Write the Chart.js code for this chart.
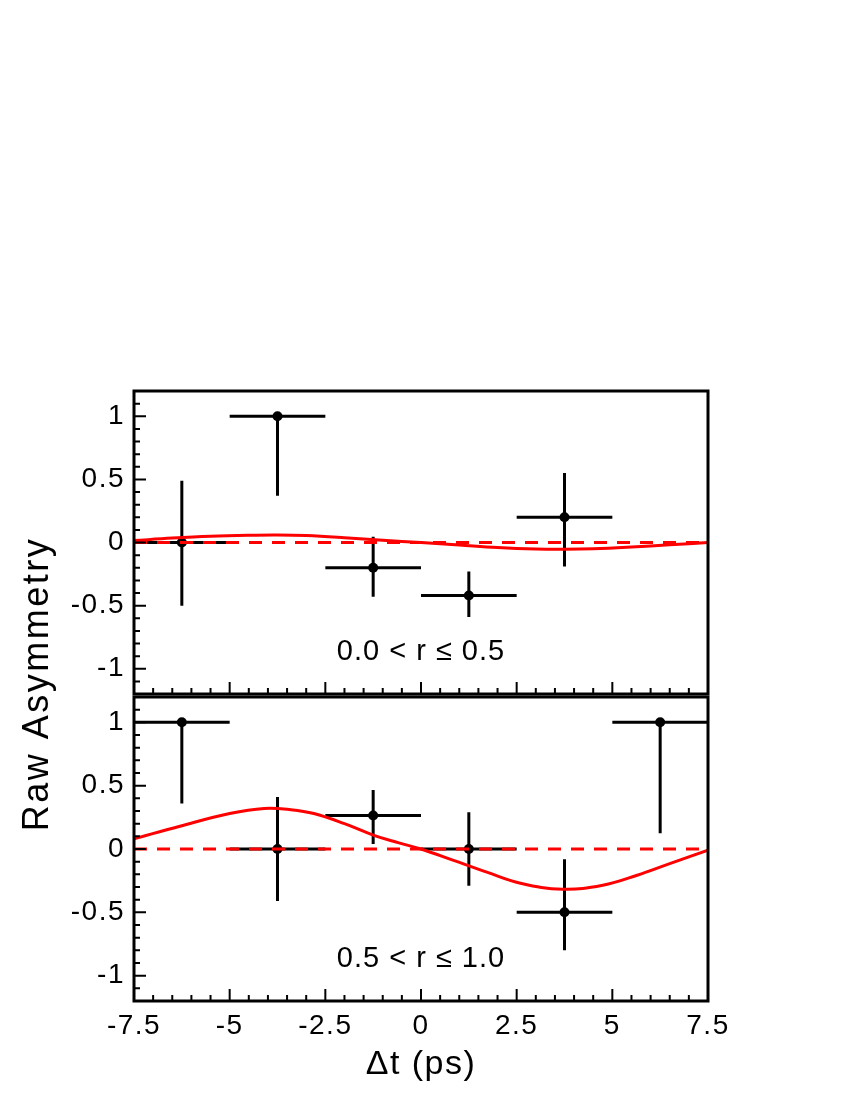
<!DOCTYPE html>
<html>
<head>
<meta charset="utf-8">
<script src="https://cdn.jsdelivr.net/npm/chart.js@4.4.1/dist/chart.umd.min.js"></script>
<style>
  body { margin: 0; background: #fff; }
  canvas { position: absolute; left: 0; top: 0; }
</style>
</head>
<body>
<canvas id="topPanel" width="850" height="1100"></canvas>
<canvas id="bottomPanel" width="850" height="1100"></canvas>
<script>
// bin centres in ps, every bin is 2.5 ps wide
var binCenters = [-6.25, -3.75, -1.25, 1.25, 3.75, 6.25];
var binHalf = 1.25;

// 0.0 < r <= 0.5  (last bin is empty)
var lowY        = [0, 1, -0.2, -0.42, 0.2, null];
var lowErrUp    = [0.49, 0, 0.245, 0.19, 0.35, null];
var lowErrDown  = [0.5, 0.63, 0.23, 0.17, 0.39, null];

// 0.5 < r <= 1.0
var highY       = [1, 0, 0.265, 0, -0.5, 1];
var highErrUp   = [0, 0.41, 0.2, 0.29, 0.42, 0];
var highErrDown = [0.64, 0.41, 0.225, 0.29, 0.3, 0.875];

// fit curves
var lowFitX  = [-7.5, -6.5, -5.5, -4.5, -3.75, -3, -2, -1, 0, 1, 2, 3, 3.75, 4.5, 5.5, 6.5, 7.5];
var lowFitY  = [0.015, 0.035, 0.05, 0.058, 0.06, 0.055, 0.038, 0.017, 0, -0.02, -0.04, -0.052, -0.054, -0.05, -0.036, -0.018, 0];
var highFitX = [-7.5, -6.3, -5, -4.1, -3.4, -2.8, -2, -1.25, -0.6, 0, 0.85, 1.7, 2.6, 3.7, 4.75, 5.65, 6.5, 7.5];
var highFitY = [0.08, 0.18, 0.28, 0.32, 0.31, 0.28, 0.2, 0.11, 0.05, 0, -0.09, -0.18, -0.27, -0.317, -0.286, -0.207, -0.115, -0.01];

var xTickValues = [-7.5, -5, -2.5, 0, 2.5, 5, 7.5];
var yTickValues = [-1, -0.5, 0, 0.5, 1];

Chart.defaults.font.family = '"Liberation Sans", Arial, sans-serif';
Chart.defaults.color = '#000';

function points(ys) {
  var out = [];
  binCenters.forEach(function(x, i) {
    if (ys[i] !== null) out.push({x: x, y: ys[i]});
  });
  return out;
}

function errorBars(ys, up, down) {
  var out = [];
  binCenters.forEach(function(x, i) {
    if (ys[i] === null) return;
    out.push({x: x - binHalf, y: ys[i]}, {x: x + binHalf, y: ys[i]}, {x: x, y: null});
    out.push({x: x, y: ys[i] + up[i]}, {x: x, y: ys[i] - down[i]}, {x: x, y: null});
  });
  return out;
}

function curve(xs, ys) {
  return xs.map(function(x, i) { return {x: x, y: ys[i]}; });
}

// ROOT-like frame with ticks pointing inwards
var frameTicks = {
  id: 'frameTicks',
  beforeDraw: function(chart) { chart.ctx.letterSpacing = '1.5px'; },
  afterDatasetsDraw: function(chart) {
    var ctx = chart.ctx, a = chart.chartArea;
    var xs = chart.scales.x, ys = chart.scales.y;
    ctx.save();
    ctx.strokeStyle = '#000';
    ctx.lineWidth = 2;
    ctx.beginPath();
    for (var k = -75; k <= 75; k += 5) {
      var px = xs.getPixelForValue(k / 10);
      var len = (k % 25 === 0) ? 12 : 6;
      ctx.moveTo(px, a.bottom);
      ctx.lineTo(px, a.bottom - len);
    }
    for (var j = -12; j <= 12; j++) {
      var py = ys.getPixelForValue(j / 10);
      var len2 = (j % 5 === 0) ? 12 : 6;
      ctx.moveTo(a.left, py);
      ctx.lineTo(a.left + len2, py);
    }
    ctx.stroke();
    ctx.lineWidth = 3;
    ctx.strokeRect(a.left, a.top, a.right - a.left, a.bottom - a.top);
    ctx.restore();
  }
};

var panelText = {
  id: 'panelText',
  afterDraw: function(chart, args, opts) {
    var ctx = chart.ctx;
    ctx.save();
    ctx.fillStyle = '#000';
    ctx.textAlign = 'center';
    ctx.textBaseline = 'middle';
    ctx.letterSpacing = '1px';
    ctx.font = '29px "Liberation Sans", Arial, sans-serif';
    ctx.fillText(opts.text, chart.scales.x.getPixelForValue(0), chart.scales.y.getPixelForValue(-0.87));
    if (opts.yTitle) {
      ctx.letterSpacing = '2.5px';
      ctx.font = '36px "Liberation Sans", Arial, sans-serif';
      ctx.translate(38, 684);
      ctx.rotate(-Math.PI / 2);
      ctx.fillText(opts.yTitle, 0, 0);
    }
    ctx.restore();
    ctx.letterSpacing = '0px';
  }
};

function makePanel(id, ys, up, down, fitX, fitY, label, isBottom) {
  return new Chart(document.getElementById(id), {
    type: 'scatter',
    data: {
      datasets: [
        {
          type: 'line', data: curve(fitX, fitY), borderColor: '#ff0000', borderWidth: 3,
          pointRadius: 0, tension: 0.4, order: 0
        },
        {
          type: 'line', data: [{x: -7.5, y: 0}, {x: 7.5, y: 0}], borderColor: '#ff0000', borderWidth: 3,
          borderDash: [13, 10], pointRadius: 0, order: 1
        },
        {
          data: points(ys), pointRadius: 5, pointBackgroundColor: '#000', pointBorderWidth: 0, order: 2
        },
        {
          type: 'line', data: errorBars(ys, up, down), borderColor: '#000', borderWidth: 3,
          pointRadius: 0, spanGaps: false, tension: 0, order: 3
        }
      ]
    },
    options: {
      responsive: false,
      animation: false,
      events: [],
      layout: {
        padding: isBottom ? {left: 0, right: 142, top: 697, bottom: 15}
                          : {left: 0, right: 142, top: 391, bottom: 406}
      },
      plugins: {
        legend: {display: false},
        tooltip: {enabled: false},
        panelText: {text: label, yTitle: isBottom ? 'Raw Asymmetry' : null}
      },
      scales: {
        x: {
          type: 'linear', min: -7.5, max: 7.5,
          display: isBottom,
          grid: {display: false, drawTicks: false},
          border: {display: false},
          afterBuildTicks: function(s) { s.ticks = xTickValues.map(function(v) { return {value: v}; }); },
          afterFit: function(s) { s.height = isBottom ? 84 : 0; },
          ticks: {font: {size: 28}, padding: 8, maxRotation: 0, callback: function(v) { return String(v); }},
          title: {display: true, text: 'Δt (ps)', font: {size: 34}, padding: 0}
        },
        y: {
          type: 'linear', min: -1.2, max: 1.2,
          grid: {display: false, drawTicks: false},
          border: {display: false},
          afterBuildTicks: function(s) { s.ticks = yTickValues.map(function(v) { return {value: v}; }); },
          afterFit: function(s) { s.width = 134; },
          ticks: {font: {size: 28}, padding: 9, callback: function(v) { return String(v); }}
        }
      }
    },
    plugins: [frameTicks, panelText]
  });
}

makePanel('topPanel', lowY, lowErrUp, lowErrDown, lowFitX, lowFitY, '0.0 < r ≤ 0.5', false);
makePanel('bottomPanel', highY, highErrUp, highErrDown, highFitX, highFitY, '0.5 < r ≤ 1.0', true);
</script>
</body>
</html>
